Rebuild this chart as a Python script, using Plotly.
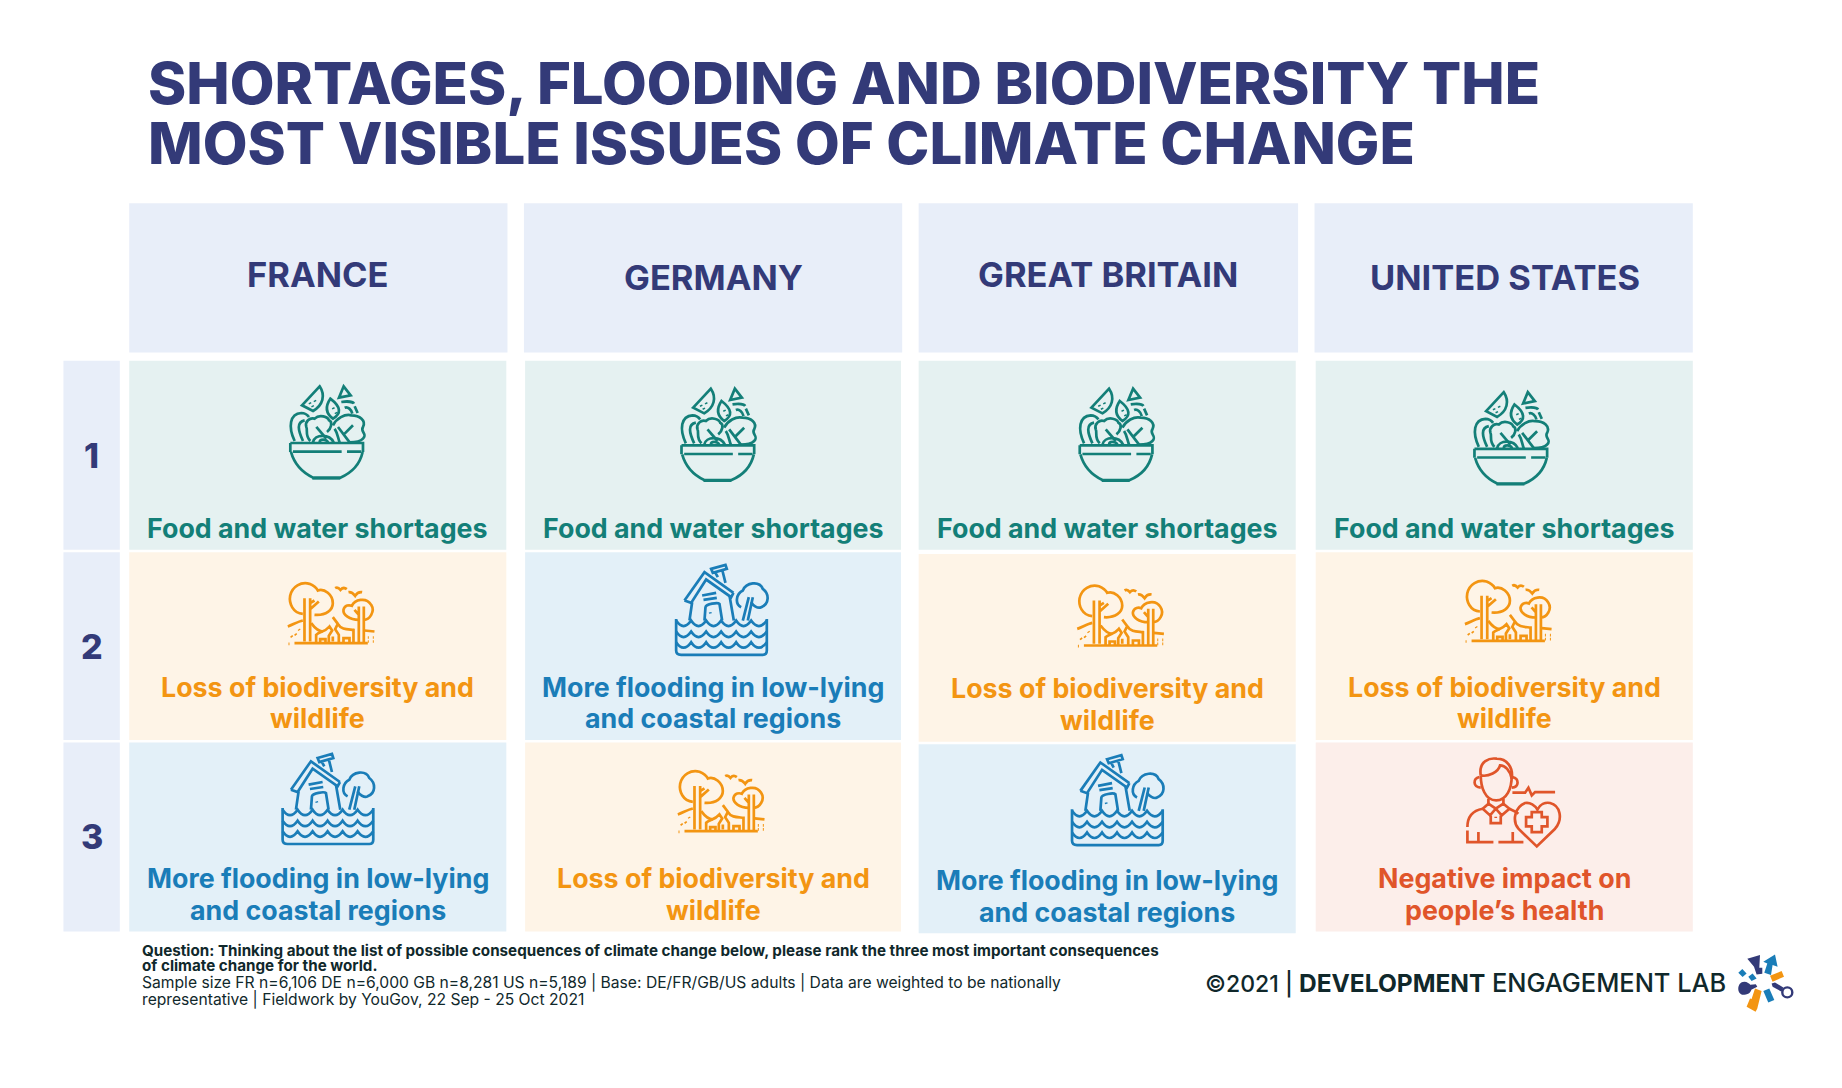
import re
import plotly.graph_objects as go

# ---------- data ----------
title_lines = ["SHORTAGES, FLOODING AND BIODIVERSITY THE", "MOST VISIBLE ISSUES OF CLIMATE CHANGE"]
countries = ["FRANCE", "GERMANY", "GREAT BRITAIN", "UNITED STATES"]
ranks = ["1", "2", "3"]
france = ["food", "bio", "flood"]
germany = ["food", "flood", "bio"]
britain = ["food", "bio", "flood"]
usa = ["food", "bio", "health"]
issue_labels = {
    "food": ["Food and water shortages"],
    "bio": ["Loss of biodiversity and", "wildlife"],
    "flood": ["More flooding in low-lying", "and coastal regions"],
    "health": ["Negative impact on", "people’s health"],
}
footer_bold = ["Question: Thinking about the list of possible consequences of climate change below, please rank the three most important consequences",
               "of climate change for the world."]
footer_plain = ["Sample size FR n=6,106 DE n=6,000 GB n=8,281 US n=5,189 | Base: DE/FR/GB/US adults | Data are weighted to be nationally",
                "representative | Fieldwork by YouGov, 22 Sep - 25 Oct 2021"]

# ---------- layout (in page pixels; the axes span the page) ----------
W, H = 1842, 1088
S = 1842 / 1568
FONT = "Inter"
NAVY = "#333A78"; HEAD = "#E8EEF9"
STY = {"food": ("#E5F1F1", "#137F78"), "bio": ("#FEF4E7", "#F39512"),
       "flood": ("#E3F0F8", "#1A7DB8"), "health": ("#FCEEEA", "#E0552A")}
col_head = [(110, 432), (446, 768), (782, 1105), (1119, 1441)]
col_cell = [(110, 431), (447, 767), (782, 1103), (1120, 1441)]
row_y = [(307, 468), (470, 630), (632, 793)]
col_dy = [[0, 0, 0], [0, 0, 0], [0, 1.5, 1.5], [0, 0, 0]]
head_y = [234, 236, 234, 236]
head_x = [270, 607, 943, 1281]
rank_y = [388, 550, 712]
icon_pos = {(0, 0): (246, 328), (1, 0): (579, 330), (2, 0): (918, 330), (3, 0): (1254, 333),
            (0, 1): (245, 495), (2, 1): (917, 497), (3, 1): (1247, 493), (1, 2): (577, 655),
            (1, 1): (575, 480), (0, 2): (240, 641), (2, 2): (912, 642), (3, 2): (1248, 645)}
label_y = [[449.5], [584.5, 611.5], [747.5, 774.5]]

# Icon outlines in a 3x-zoomed local space
ICONS = {
    "food": ((58, 45), [
        "M62,218 L280,218 L280,245 M62,218 L62,245",
        "M70,244 L216,244 M232,244 L275,244",
        "M64,245 C75,285 105,310 130,322 L212,322 C240,310 270,285 279,245",
        "M128,324 L212,324",
        "M97,105 L150,48 C168,75 160,105 130,122 Z",
        "M120,97 L122,101 M135,90 L137,94 M128,106 L130,110",
        "M222,48 L243,75 L208,82 Z",
        "M182,85 C165,110 170,130 190,145 C215,130 215,110 182,85 Z",
        "M190,112 L192,116 M198,126 L200,130",
        "M215,95 C235,92 250,95 253,100 M255,108 L264,128 M225,112 C235,108 245,118 248,130",
        "M75,212 C55,170 60,130 95,128 C105,128 112,132 118,140 M100,212 C85,180 80,155 105,150",
        "M122,212 C105,195 115,180 110,170 C105,155 120,140 135,145 C150,130 175,140 178,150 C190,155 185,175 172,185",
        "M140,170 L170,205",
        "M130,216 C135,190 180,190 192,216 M150,216 C150,205 170,205 175,216",
        "M190,165 C200,145 225,130 245,135 C270,135 290,150 280,170 C270,185 295,190 280,205 C270,216 250,216 240,216",
        "M250,165 L225,190 M205,170 L240,216 M195,175 C205,190 205,205 210,216",
    ]),
    "bio": ((55, 65), [
        "M100,162 C70,160 58,130 62,108 C68,80 95,65 120,72 C135,78 143,88 145,92 C165,85 190,105 190,130 C190,150 170,168 135,165",
        "M105,115 L105,245 M122,245 L122,115 M122,148 L148,125 M122,130 L135,122",
        "M197,85 Q205,80 213,90 Q222,80 232,88 M237,97 Q247,95 257,108 Q265,95 278,97",
        "M268,180 C240,180 220,165 222,150 C225,135 240,135 247,138 C255,120 290,110 305,135 C318,155 300,180 283,180",
        "M268,140 L268,250 M283,140 L283,250 M255,150 L268,165",
        "M75,250 L295,250",
        "M55,200 C70,195 85,185 100,182 M125,190 C140,210 150,215 160,215 M285,212 L315,215",
        "M65,228 L68,232 M77,222 L80,226 M57,252 L60,252 M295,233 L298,233 M310,233 L313,233 M295,245 L298,245 M310,245 L313,245 M88,208 L90,211",
        "M140,250 L140,225 C150,215 165,218 180,200 L188,212 L178,228 L178,250 M152,250 L152,238 L168,238 L168,250",
        "M190,172 L205,192 C215,210 235,208 252,210 L252,250 M205,192 L197,208 L208,225 L208,250 M222,250 L222,235 L240,235 L240,250 M190,230 L190,245",
    ]),
    "flood": ((38, 35), [
        "M65,145 L125,60 L212,122 M65,145 L85,152 L130,82 L205,135 L212,122",
        "M145,50 L188,38 L192,50 L150,62 Z M158,62 L165,75 M178,52 L188,92",
        "M88,150 L80,205 M200,130 L213,205",
        "M118,130 L160,122 M122,143 L162,137",
        "M125,205 L128,165 C130,155 165,150 170,155 L178,205 M142,180 L143,184",
        "M235,165 C215,155 220,125 240,115 C250,90 290,85 300,110 C320,125 320,155 295,165 C285,170 270,160 265,150",
        "M258,135 L240,205 M270,135 L255,205",
        "M40,200 L40,295 Q40,308 55,308 L300,308 Q312,308 312,295 L312,200",
        "M40,205 Q62,238 85,205 Q107,238 130,205 Q152,238 175,205 Q197,238 220,205 Q242,238 265,205 Q288,238 312,205",
        "M40,238 Q62,271 85,238 Q107,271 130,238 Q152,271 175,238 Q197,271 220,238 Q242,271 265,238 Q288,271 312,238",
        "M40,270 Q62,303 85,270 Q107,303 130,270 Q152,303 175,270 Q197,303 220,270 Q242,303 265,270 Q288,303 312,270",
    ]),
    "health": ((48, 22), [
        "M92,75 C92,110 105,150 138,150 C170,150 185,115 185,75",
        "M92,75 C85,30 120,22 140,25 C170,25 190,50 185,85 C180,60 165,45 150,45 C145,65 115,80 92,75",
        "M88,80 C68,85 68,110 92,112 M187,80 C208,85 208,110 185,112",
        "M187,127 L225,127 L235,112 L245,135 L255,125 L315,125",
        "M115,145 L115,162 M160,145 L160,162",
        "M115,160 L98,175 L120,195 L137,175 L155,195 L178,175 L160,160 M115,160 L137,175 L160,160",
        "M122,195 L122,218 L152,218 L152,195 M137,199 L137,203",
        "M98,175 C70,180 52,195 52,230 M52,240 L52,275 L130,275 M145,275 L220,275 M85,245 L85,275 M188,245 L188,275 M178,175 C185,178 195,182 205,190",
        "M260,288 L205,235 C185,210 195,170 225,158 C240,155 255,165 262,178 C270,162 285,155 300,158 C330,165 340,205 315,235 Z",
        "M245,185 L275,185 L275,200 L292,200 L292,228 L275,228 L275,245 L245,245 L245,228 L228,228 L228,200 L245,200 Z",
    ]),
}
TOK = re.compile(r"[MLCQZ]|-?\d+\.?\d*")


def place(path, ox, oy, k, x0, y0):
    """Map a local outline onto page pixels."""
    out, is_x = [], True
    for t in TOK.findall(path):
        if t.isalpha():
            out.append(t); is_x = True
        else:
            v = float(t)
            val = x0 + (v - ox) * k if is_x else y0 + (v - oy) * k
            out.append(f"{val:.2f}" + ("," if is_x else " "))
            is_x = not is_x
    return "".join(out)


shapes, notes = [], []


def rect(x0, x1, y0, y1, c):
    shapes.append(dict(type="rect", xref="x", yref="y", x0=x0 * S, x1=x1 * S, y0=y0 * S, y1=y1 * S,
                       fillcolor=c, line=dict(width=0), layer="below"))


def text(x, y, s, size, color, anchor="center", weight=700):
    notes.append(dict(x=x * S, y=y * S, xref="x", yref="y", text=s, showarrow=False, xanchor=anchor, yanchor="middle",
                      font=dict(family=FONT, size=size, color=color, weight=weight)))


for i, t in enumerate(title_lines):
    text(124.5, [71, 122][i], t, 58, NAVY, "left", 800)
for i, c in enumerate(countries):
    rect(*col_head[i], 173, 300, HEAD)
    text(head_x[i], head_y[i], c, 34.5, NAVY, "center", 700)
for j, r in enumerate(ranks):
    rect(54, 102, *row_y[j], HEAD)
    text(78, rank_y[j], r, 34, NAVY, "center", 800)

table = [france, germany, britain, usa]
for i, col in enumerate(table):
    for j, issue in enumerate(col):
        bg, fg = STY[issue]
        d = col_dy[i][j]
        rect(*col_cell[i], row_y[j][0] + d, row_y[j][1] + d, bg)
        lines = issue_labels[issue]
        ys = label_y[j]
        for l, s in enumerate(lines):
            text(sum(col_cell[i]) / 2, ys[l] + d, s, 26.8, fg, "center", 700)
        (ox, oy), paths = ICONS[issue]
        px, py = icon_pos[(i, j)]
        for p in paths:
            shapes.append(dict(type="path", xref="x", yref="y", path=place(p, ox, oy, 1 / 3, px * S, py * S),
                               line=dict(color=fg, width=2.7)))

for i, t in enumerate(footer_bold):
    text(119.5, [809, 822][i], t, 15.2, "#10282B", "left", 700)
for i, t in enumerate(footer_plain):
    text(119.5, [836, 851][i], t, 15.65, "#10282B", "left", 400)
notes.append(dict(x=1024 * S, y=836 * S, xref="x", yref="y", showarrow=False, xanchor="left", yanchor="middle",
                  text='<span style="font-size:23px">©2021 | </span><b>DEVELOPMENT</b> '
                       '<span style="font-size:25.4px">ENGAGEMENT LAB</span>',
                  font=dict(family=FONT, size=24.5, color="#10282B", weight=500)))

# Logo, page pixels relative to its hub
LOGO_NAVY, LOGO_BLUE, LOGO_ORANGE = "#333A78", "#1A7DB8", "#F39512"
hub = (1763.3, 981.7)
logo_fill = [
    ("M-16,-23 L-3.3,-26.7 L-4,-14 L-1,-14 L-1,-8 L-6.7,-7.3 L-9.3,-15 L-10.7,-16.7 Z", LOGO_NAVY),
    ("M11.7,-27.3 L14.3,-15 L9.3,-16.7 L7.7,-6.7 L1,-9 L4,-18.3 L0,-20 Z", LOGO_BLUE),
    ("M-25,-9 L-21,-12.7 L-16.7,-8.3 L-20.7,-4.7 Z M-15,-5 L-10.7,-8.3 L-6.7,-3.3 L-11.7,-0.7 Z", LOGO_BLUE),
    ("M6.7,-6 L18.3,-10.7 L20.7,-5 L9.3,0 Z", LOGO_ORANGE),
    ("M8.3,1.7 L11.7,0.7 L20,5.7 L18.3,10 L9.3,5 Z", LOGO_NAVY),
    ("M0,9.3 L6,6.7 L11,18.3 L5,20.7 Z", LOGO_BLUE),
    ("M-8.3,6.7 L-1.7,9.3 L-6,26.7 L-7.7,30 L-16.7,25 L-13.3,16.7 L-11.7,17.3 Z", LOGO_ORANGE),
    ("M-19,0 C-27,0 -27,14 -19,13 C-14,13 -12,9 -12,8 L-6,5 L-7.5,2.5 L-13,3 C-14,2 -16,0 -19,0 Z", LOGO_NAVY),
]
for p, c in logo_fill:
    shapes.append(dict(type="path", xref="x", yref="y", fillcolor=c, line=dict(width=0),
                       path=place(p, 0, 0, 1, hub[0], hub[1])))
shapes.append(dict(type="circle", xref="x", yref="y", x0=hub[0] + 19, x1=hub[0] + 29, y0=hub[1] + 5.7, y1=hub[1] + 15.7,
                   line=dict(color=LOGO_NAVY, width=2.4)))

fig = go.Figure()
fig.update_layout(width=W, height=H, margin=dict(l=0, r=0, t=0, b=0), paper_bgcolor="white", plot_bgcolor="white",
                  xaxis=dict(range=[0, W], visible=False, fixedrange=True),
                  yaxis=dict(range=[H, 0], visible=False, fixedrange=True),
                  shapes=shapes, annotations=notes, showlegend=False)
fig.write_html("out.html", post_script="document.body.style.margin='0';", config={"displayModeBar": False})
